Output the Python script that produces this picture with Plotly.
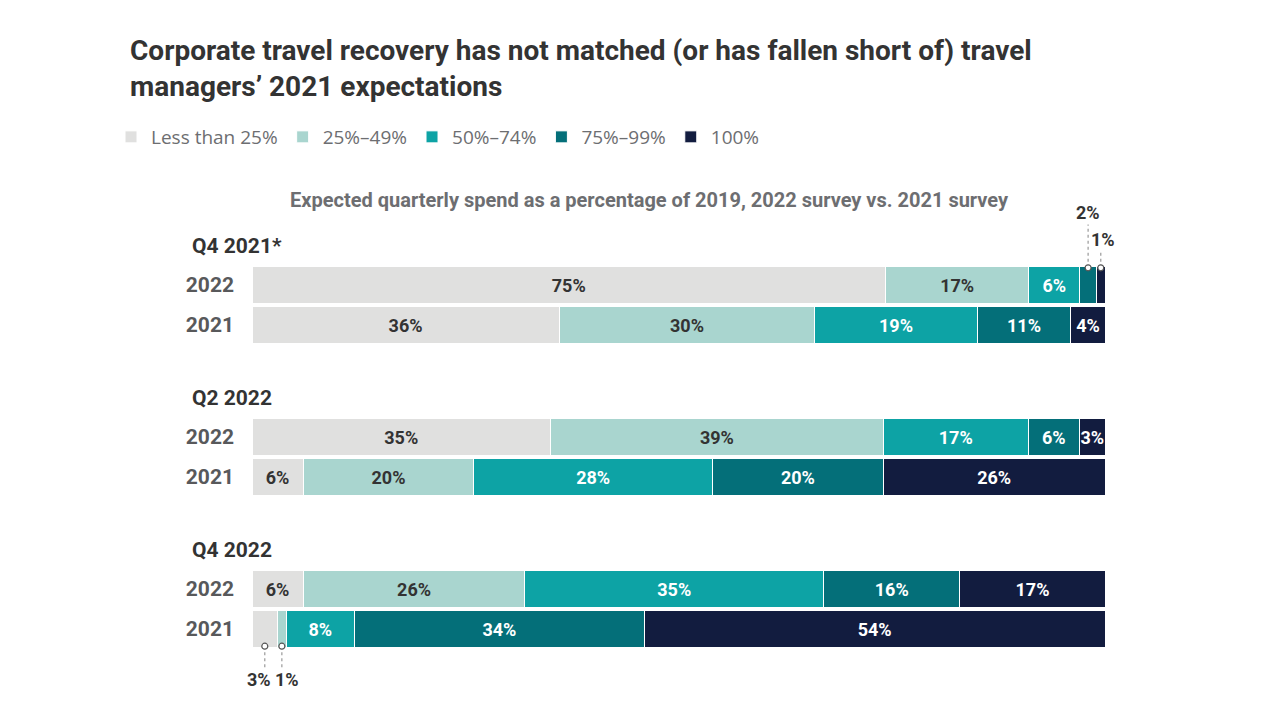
import plotly.graph_objects as go

# ---------------- data ----------------
series_names = ["Less than 25%", "25%–49%", "50%–74%", "75%–99%", "100%"]
series_colors = ["#e0e0df", "#a9d5cf", "#0da3a5", "#046f79", "#121c3f"]
series_text_colors = ["#333333", "#333333", "#ffffff", "#ffffff", "#ffffff"]

groups = ["Q4 2021*", "Q2 2022", "Q4 2022"]
surveys = ["2022", "2021"]

# one value per row: Q4 2021 (2022, 2021), Q2 2022 (2022, 2021), Q4 2022 (2022, 2021)
less_than_25 = [75, 36, 35, 6, 6, 3]
p25_49 = [17, 30, 39, 20, 26, 1]
p50_74 = [6, 19, 17, 28, 35, 8]
p75_99 = [2, 11, 6, 20, 16, 34]
p100 = [1, 4, 3, 26, 17, 54]
series_values = [less_than_25, p25_49, p50_74, p75_99, p100]

# segments labelled outside with leader lines: (row index, series index, side, label x-shift px)
callouts = [(0, 3, "top", 0), (0, 4, "top", 2), (5, 0, "bottom", -6), (5, 1, "bottom", 5)]

title = "Corporate travel recovery has not matched (or has fallen short of) travel<br>managers’ 2021 expectations"
subtitle = "Expected quarterly spend as a percentage of 2019, 2022 survey vs. 2021 survey"

# ---------------- layout helpers ----------------
OFF = 8  # page body margin offset
COND = "Roboto, Liberation Sans, sans-serif"
REG = "Open Sans, Noto Sans, sans-serif"
GROUP_STEP = 3.8
row_y = []
row_labels = []
for g in range(len(groups)):
    for r in range(len(surveys)):
        row_y.append(g * GROUP_STEP + r)
        row_labels.append(surveys[r])

n_rows = len(row_y)
totals = [sum(series_values[s][i] for s in range(5)) for i in range(n_rows)]
outside_set = {(c[0], c[1]) for c in callouts}

fig = go.Figure()
for s, name in enumerate(series_names):
    vals = series_values[s]
    texts = ["" if (i, s) in outside_set else f"{v}%" for i, v in enumerate(vals)]
    fig.add_trace(go.Bar(
        y=row_y, x=vals, name=name, orientation="h",
        marker=dict(color=series_colors[s], line=dict(color="white", width=1)),
        width=0.92,
        text=texts, textposition="inside", insidetextanchor="middle",
        textangle=0, constraintext="none",
        textfont=dict(family=COND, size=18, color=series_text_colors[s], weight="bold"),
        hoverinfo="name+x",
    ))

# callout leader lines & markers
for (i, s, side, dx) in callouts:
    cum = sum(series_values[k][i] for k in range(s))
    xc = (cum + series_values[s][i] / 2) / totals[i] * 100
    v = series_values[s][i]
    if side == "top":
        y_mark = row_y[i] - 0.43
        order = [c for c in callouts if c[0] == i]
        idx = order.index((i, s, side, dx))
        y_label = row_y[i] - 0.46 - (0.67 if idx == len(order) - 1 else 1.35)
        y_line_end = y_label + 0.3
    else:
        y_mark = row_y[i] + 0.43
        y_label = row_y[i] + 1.27
        y_line_end = y_label - 0.3
    fig.add_trace(go.Scatter(
        x=[xc, xc], y=[y_mark, y_line_end], mode="lines",
        line=dict(color="#999999", width=1.2, dash="3px,3px"),
        showlegend=False, hoverinfo="skip", cliponaxis=False,
    ))
    fig.add_trace(go.Scatter(
        x=[xc], y=[y_mark], mode="markers",
        marker=dict(symbol="circle", size=6, color="white", line=dict(color="#555555", width=1.2)),
        showlegend=False, hoverinfo="skip", cliponaxis=False,
    ))
    fig.add_annotation(x=xc, y=y_label, text=f"{v}%", showarrow=False, xshift=dx,
                       xanchor="center", yanchor="middle",
                       font=dict(family=COND, size=18, color="#333333", weight="bold"))

# group headers
for g, gname in enumerate(groups):
    fig.add_annotation(xref="paper", x=-62 / 853, y=g * GROUP_STEP - 0.98, text=gname,
                       showarrow=False, xanchor="left", yanchor="middle",
                       font=dict(family=COND, size=21, color="#333333", weight="bold"))

# subtitle
fig.add_annotation(xref="paper", x=(649 - 252) / 853, y=(200 - 285) / 40, yanchor="middle",
                   text=subtitle, showarrow=False,
                   font=dict(family=COND, size=20, color="#6d6e71", weight="bold"))

plot_top, plot_bottom = 195, 700  # page pixels
unit = 40
y_top = (plot_top - 285) / unit
y_bot = (plot_bottom - 285) / unit

fig.update_layout(
    width=1280, height=720,
    paper_bgcolor="white", plot_bgcolor="white",
    barmode="stack", barnorm="percent",
    margin=dict(l=252 - OFF, r=1280 - (1105 - OFF), t=plot_top - OFF, b=720 - (plot_bottom - OFF), pad=0),
    title=dict(text=title, x=(130 - OFF) / 1280, xanchor="left", y=1 - (60 - OFF) / 720, yanchor="middle",
               font=dict(family=COND, size=28, color="#333333", weight="bold")),
    legend=dict(orientation="h", x=(130 - OFF - 19) / 1280, xref="container", y=1 - (137 - OFF) / 720,
                yref="container", xanchor="left", yanchor="middle",
                font=dict(family=REG, size=19, color="#6d6e71"),
                traceorder="normal", itemwidth=30),
    xaxis=dict(range=[0, 100], visible=False, fixedrange=True),
    yaxis=dict(range=[y_bot, y_top], tickvals=row_y, ticktext=row_labels,
               showgrid=False, zeroline=False, showline=False, ticks="",
               ticklabelstandoff=17,
               tickfont=dict(family=COND, size=21, color="#58595b", weight="bold")),
    showlegend=True,
)

fig.write_html("out.html")
